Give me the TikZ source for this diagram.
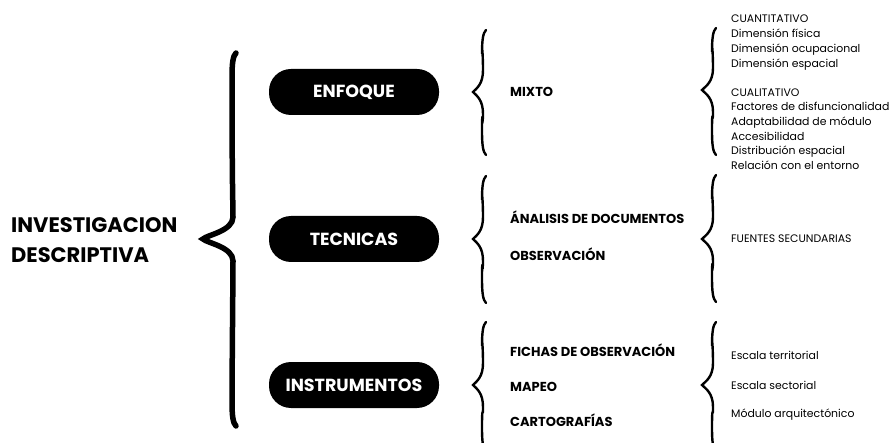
\documentclass[tikz,border=0pt]{standalone}
\usepackage{fontspec}
\setmainfont{Poppins}
\newfontfamily\popb{Poppins}[UprightFont={* Bold}]
\newcommand\cbrace[6]{% #1 style, #2 xbody, #3 xtip, #4 top, #5 tip y, #6 bottom
  \draw[#1] ({#2+3},#4) .. controls ({#2},{#4+3}) and ({#2-1},{#4+10}) .. ({#2-1},{#4+24})
    .. controls ({#2-1},{#5-50}) and (#2,{#5-35}) .. (#2,{#5-22}) .. controls (#2,{#5-8}) and ({#3+4},{#5-4}) .. (#3,#5)
    .. controls ({#3+4},{#5+4}) and (#2,{#5+8}) .. (#2,{#5+22})
    .. controls (#2,{#5+35}) and ({#2-1},{#6-50}) .. ({#2-1},{#6-24}) .. controls ({#2-1},{#6-10}) and (#2,{#6-3}) .. ({#2+3},#6);}
\begin{document}
\begin{tikzpicture}[x=1pt,y=-1pt,
  pill/.style={fill=black,text=white,rounded corners=22pt,minimum width=170pt,minimum height=46pt,font=\popb\fontsize{17.5}{20}\selectfont,inner sep=0pt},
  midtxt/.style={anchor=mid west,inner sep=0pt,yshift=-2pt,font=\popb\fontsize{13}{15}\selectfont},
  rtxt/.style={anchor=mid west,inner sep=0pt,yshift=-1.5pt,font=\fontsize{10.9}{13}\selectfont},
  bigbr/.style={line width=5.5pt,line cap=round},
  smbr/.style={line width=2.4pt,line cap=round}]
\useasboundingbox (0,0) rectangle (891,443);
\node[anchor=west,align=left,inner sep=0pt,yshift=-1pt,font=\popb\fontsize{21}{30}\selectfont] (inv) at (11,239) {INVESTIGACION\\DESCRIPTIVA};
\cbrace{bigbr}{233}{203}{53}{239}{426}
\node[pill] (enf) at (354,92) {ENFOQUE};
\node[pill] (tec) at (354,239) {TECNICAS};
\node[pill] (ins) at (354,385) {INSTRUMENTOS};
\cbrace{smbr}{483}{473}{30}{92}{155}
\cbrace{smbr}{483}{473}{176}{239}{303}
\cbrace{smbr}{483}{473}{322}{385}{452}
\node[midtxt] (m1) at (510,92) {MIXTO};
\node[midtxt] (m2) at (510,219) {ÁNALISIS DE DOCUMENTOS};
\node[midtxt] (m3) at (510,256) {OBSERVACIÓN};
\node[midtxt] (m4) at (510,352) {FICHAS DE OBSERVACIÓN};
\node[midtxt] (m5) at (510,387) {MAPEO};
\node[midtxt] (m6) at (510,422) {CARTOGRAFÍAS};
\cbrace{smbr}{713}{702}{28}{90}{155}
\cbrace{smbr}{713}{702}{175}{239}{302}
\cbrace{smbr}{713}{702}{322}{385}{452}
\foreach \t/\y [count=\i] in {CUANTITATIVO/18,Dimensión física/33,Dimensión ocupacional/48,Dimensión espacial/63,CUALITATIVO/92,Factores de disfuncionalidad/106,Adaptabilidad de módulo/121,Accesibilidad/136,Distribución espacial/150,Relación con el entorno/165}
  \node[rtxt] (r\i) at (731,\y) {\t};
\node[rtxt] (f1) at (731,238) {FUENTES SECUNDARIAS};
\node[rtxt] (e1) at (731,355) {Escala territorial};
\node[rtxt] (e2) at (731,385) {Escala sectorial};
\node[rtxt] (e3) at (731,413) {Módulo arquitectónico};
\end{tikzpicture}
\end{document}
